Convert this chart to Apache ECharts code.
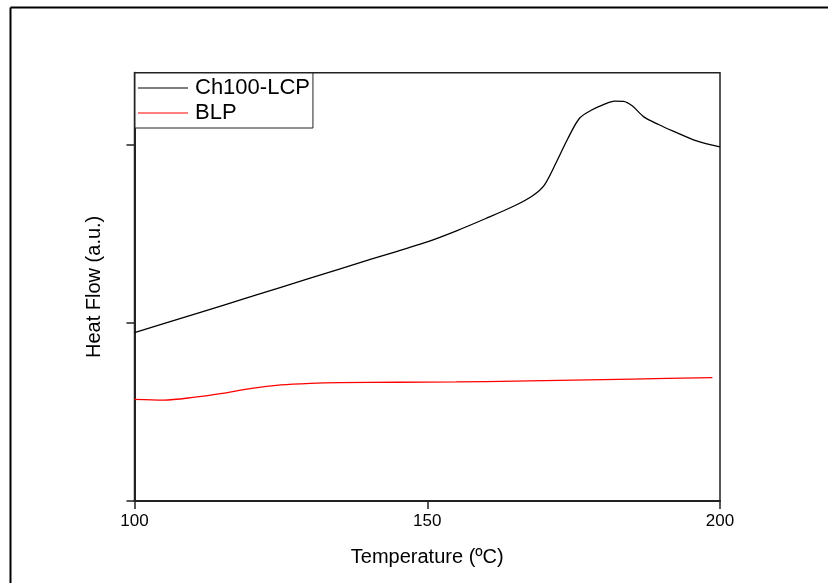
<!DOCTYPE html>
<html>
<head>
<meta charset="utf-8">
<script src="https://cdn.jsdelivr.net/npm/echarts@6/dist/echarts.min.js"></script>
<style>html,body{margin:0;padding:0;background:#fff;}#c{width:828px;height:583px;}</style>
</head>
<body>
<div id="c"></div>
<script>
var seriesNames = ['Ch100-LCP', 'BLP'];
var xTicks = [100, 150, 200];
var yTicks = [0, 1, 2];
var lcpT = [100, 110, 120, 130, 140, 150, 155, 160, 165, 168, 170, 172, 174, 176, 178, 180, 182, 183.5, 185, 187, 189.5, 192, 196, 200];
var lcpV = [0.946, 1.047, 1.149, 1.252, 1.354, 1.456, 1.518, 1.587, 1.660, 1.715, 1.775, 1.900, 2.035, 2.150, 2.195, 2.225, 2.246, 2.245, 2.220, 2.158, 2.115, 2.078, 2.023, 1.989];
var blpT = [100, 105, 110, 115, 120, 125, 130, 135, 145, 155, 165, 175, 185, 198.7];
var blpV = [0.571, 0.567, 0.582, 0.605, 0.633, 0.652, 0.661, 0.665, 0.667, 0.669, 0.673, 0.679, 0.685, 0.693];

function pairs(xs, ys) { return xs.map(function (x, i) { return [x, ys[i]]; }); }

var chart = echarts.init(document.getElementById('c'));
var font = '"Liberation Sans", Arial, sans-serif';
chart.setOption({
  animation: false,
  backgroundColor: '#fff',
  textStyle: { fontFamily: font },
  graphic: [
    { type: 'line', shape: { x1: 10.5, y1: 7.5, x2: 828, y2: 7.5 }, style: { stroke: '#000', lineWidth: 2 } },
    { type: 'line', shape: { x1: 10.5, y1: 7.5, x2: 10.5, y2: 583 }, style: { stroke: '#000', lineWidth: 2 } }
  ],
  grid: { left: 134.5, top: 72.7, right: 108, bottom: 82, show: true, borderColor: '#222', borderWidth: 1.5 },
  legend: {
    orient: 'vertical', left: 135, top: 73,
    data: seriesNames.map(function (n) { return { name: n, icon: 'rect' }; }),
    backgroundColor: '#fff',
    borderColor: '#222', borderWidth: 1,
    padding: [4, 3, 4, 3],
    itemWidth: 50, itemHeight: 1.2, itemGap: 3,
    textStyle: { fontFamily: font, fontSize: 22, color: '#000', padding: [0, 0, 0, 2] }
  },
  xAxis: {
    type: 'value', min: 100, max: 200, interval: 50,
    name: 'Temperature (ºC)', nameLocation: 'middle', nameGap: 46,
    nameTextStyle: { fontFamily: font, fontSize: 20, color: '#000' },
    axisLine: { lineStyle: { color: '#222', width: 2 } },
    axisTick: { show: true, inside: false, length: 8, lineStyle: { color: '#222', width: 1.5 } },
    axisLabel: { fontFamily: font, fontSize: 17, color: '#000', margin: 12, formatter: function (v) { return xTicks.indexOf(v) >= 0 ? String(v) : ''; } },
    splitLine: { show: false }
  },
  yAxis: {
    type: 'value', min: 0, max: 2.406, interval: 1,
    name: 'Heat Flow (a.u.)', nameLocation: 'middle', nameGap: 30,
    nameTextStyle: { fontFamily: font, fontSize: 20, color: '#000' },
    axisLine: { show: true, lineStyle: { color: '#222', width: 2 } },
    axisTick: { show: true, inside: false, length: 8, customValues: yTicks, lineStyle: { color: '#222', width: 1.5 } },
    axisLabel: { show: false },
    splitLine: { show: false }
  },
  series: [
    { name: seriesNames[0], type: 'line', data: pairs(lcpT, lcpV), symbol: 'none', smooth: 0.3,
      lineStyle: { color: '#000', width: 1.3 }, itemStyle: { color: '#000' } },
    { name: seriesNames[1], type: 'line', data: pairs(blpT, blpV), symbol: 'none', smooth: 0.3,
      lineStyle: { color: '#ff0000', width: 1.3 }, itemStyle: { color: '#ff0000' } }
  ]
});
</script>
</body>
</html>
